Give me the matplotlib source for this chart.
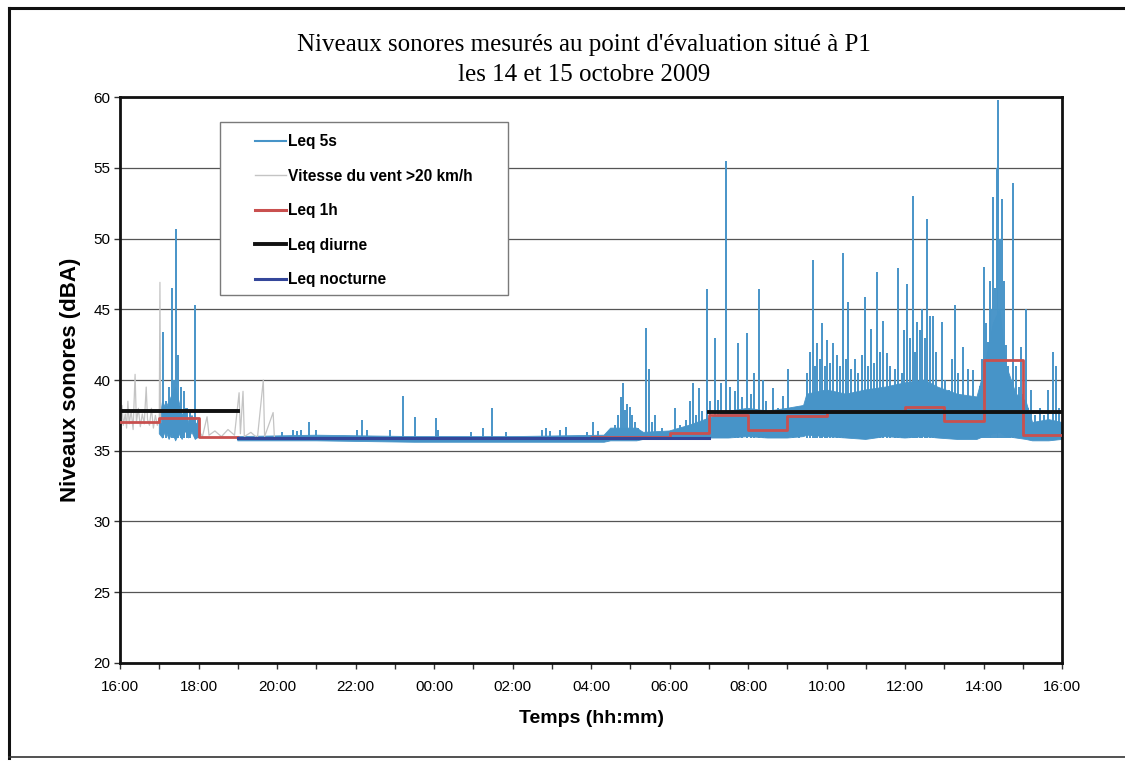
import matplotlib.pyplot as plt
import numpy as np
from matplotlib.lines import Line2D
from matplotlib.patches import Rectangle

# time axis: minutes after 16:00 on 14 october, levels in dBA
spike_min = [66, 70, 75, 80, 83, 86, 89, 93, 98, 102, 107, 115, 119,
             248, 264, 271, 277, 289, 300, 362, 370, 378, 413, 433, 451, 483, 486,
             537, 555, 569, 590, 645, 651, 657, 673, 682, 714, 723, 731,
             757, 761, 766, 769, 772, 775, 780, 783, 787, 792, 804, 809, 813, 818,
             829, 848, 856, 865, 871, 876, 881, 885, 890, 897, 902, 910, 914, 919,
             926, 933, 940, 945, 951, 958, 965, 969, 977, 983, 988, 998, 1006,
             1014, 1021, 1029, 1038,
             1050, 1055, 1059, 1062, 1066, 1070, 1073, 1078, 1081, 1085, 1090,
             1096, 1101, 1105, 1110, 1113, 1118, 1124, 1128, 1134, 1139, 1143,
             1148, 1153, 1157, 1162, 1166, 1173, 1177, 1185, 1189, 1195, 1199,
             1203, 1208, 1212, 1215, 1218, 1223, 1226, 1231, 1234, 1238, 1243,
             1247, 1257, 1261, 1267, 1272, 1276, 1281, 1289, 1296, 1304, 1315,
             1318, 1321, 1324, 1327, 1330, 1332, 1335, 1338, 1341, 1342, 1345,
             1348, 1351, 1354, 1357, 1361, 1365, 1370, 1374, 1377, 1380, 1385,
             1388, 1393, 1399, 1406, 1413, 1419, 1426, 1431, 1435]
spike_db = [43.4, 38.5, 39.5, 46.5, 40.0, 50.7, 41.8, 39.5, 39.2, 38.0, 37.8, 45.3, 37.2,
            36.3, 36.5, 36.4, 36.5, 37.0, 36.5, 36.5, 37.2, 36.5, 36.5, 38.9, 37.4, 37.3, 36.5,
            36.3, 36.6, 38.0, 36.3, 36.5, 36.6, 36.4, 36.5, 36.7, 36.3, 37.0, 36.4,
            36.8, 37.5, 38.8, 39.8, 37.9, 38.3, 38.1, 37.5, 37.0, 36.6, 43.7, 40.8, 37.0, 37.5,
            36.6, 38.0, 36.8, 37.2, 38.5, 39.8, 37.5, 39.4, 37.8, 46.4, 38.5, 43.0, 38.6, 39.8,
            55.5, 39.5, 39.2, 42.6, 38.8, 43.3, 39.0, 40.5, 46.4, 40.0, 38.5, 39.4, 38.0,
            38.9, 40.8, 38.0, 38.0,
            40.5, 42.0, 48.5, 41.0, 42.6, 41.5, 44.0, 41.0, 42.8, 41.2, 42.6,
            41.8, 41.0, 49.0, 41.5, 45.5, 40.8, 41.5, 40.5, 41.8, 45.9, 41.0,
            43.6, 41.2, 47.6, 42.0, 44.2, 41.9, 41.0, 40.8, 47.9, 40.5, 43.5,
            46.8, 43.0, 53.0, 42.0, 44.1, 43.5, 45.0, 43.0, 51.4, 44.5, 44.5,
            42.0, 44.1, 40.0, 39.3, 41.5, 45.3, 40.5, 42.3, 40.8, 40.7, 39.6,
            41.5, 48.0, 44.0, 42.7, 47.0, 45.0, 52.9, 46.5, 55.0, 59.8, 50.0,
            52.8, 47.0, 42.5, 41.0, 40.0, 53.9, 41.0, 39.5, 42.3, 39.0, 45.0,
            38.0, 39.3, 37.5, 38.0, 37.5, 39.3, 42.0, 41.0, 38.0]

# dense part of the Leq 5s trace (lower / upper envelope)
band_min = [60, 65, 70, 75, 80, 85, 90, 95, 100, 105, 110, 115, 121, 122, 179,
            180, 300, 450, 600, 740, 750, 790, 800, 840, 870, 900, 930, 960, 990,
            1020, 1045, 1050, 1080, 1110, 1140, 1170, 1200, 1230, 1250, 1280, 1310,
            1320, 1335, 1345, 1355, 1370, 1385, 1395, 1420, 1440]
band_lo = [36.2, 35.9, 36.4, 35.8, 36.3, 35.7, 36.2, 35.8, 36.4, 35.9, 36.3, 35.8, 36.0, np.nan, np.nan,
           35.7, 35.7, 35.6, 35.6, 35.6, 35.7, 35.7, 35.8, 35.8, 35.8, 35.9, 35.9, 36.0, 35.9,
           35.9, 36.0, 36.1, 36.0, 35.9, 35.8, 36.0, 35.9, 36.0, 35.9, 35.8, 35.8,
           36.0, 36.2, 36.3, 36.0, 35.9, 35.8, 35.7, 35.7, 35.8]
band_hi = [37.0, 38.5, 38.0, 38.5, 39.0, 39.5, 38.5, 37.5, 38.0, 37.0, 37.5, 37.0, 36.8, np.nan, np.nan,
           36.0, 36.1, 36.0, 36.0, 36.1, 36.6, 36.6, 36.3, 36.4, 36.8, 37.3, 37.8, 38.0, 37.8,
           38.0, 38.2, 39.0, 39.3, 39.0, 39.3, 39.5, 39.8, 40.0, 39.5, 39.0, 38.8,
           40.5, 44.0, 45.0, 41.0, 39.0, 38.5, 37.0, 37.2, 37.0]

# periods with wind > 20 km/h
wind_min = [0, 3, 5, 8, 10, 12, 14, 17, 20, 23, 25, 28, 31, 34, 37, 40, 42, 45, 48,
            51, 54, 57, 60, 61, 62, 63,
            122, 126, 133, 136, 145, 155, 165, 175, 182, 184, 188, 190, 200, 210,
            219, 221, 234, 236]
wind_db = [37.0, 38.2, 36.8, 37.6, 36.6, 38.5, 36.9, 37.8, 36.5, 40.4, 37.0, 38.0, 36.7,
           37.6, 36.9, 39.5, 37.2, 36.8, 38.0, 36.6, 37.5, 36.8, 37.3, 46.9, 37.0, np.nan,
           36.3, 36.0, 37.4, 36.1, 36.4, 36.0, 36.5, 36.1, 39.1, 36.2, 39.2, 36.0, 36.3,
           35.9, 40.0, 36.0, 37.7, 35.9]

# hourly Leq, 16:00 -> 15:00
leq1h = [37.0, 37.3, 36.0, 35.9, 35.9, 35.9, 35.9, 35.9, 35.9, 35.9, 35.9, 35.9,
         36.0, 36.0, 36.25, 37.5, 36.5, 37.45, 37.8, 37.8, 38.1, 37.1, 41.4, 36.1]

# day / night periods (hours after 16:00)
diurne_start = [0, 15]
diurne_end = [3, 24]
diurne_db = [37.8, 37.75]
nocturne_start = [3]
nocturne_end = [15]
nocturne_db = [35.9]

tick_labels = ["16:00", "18:00", "20:00", "22:00", "00:00", "02:00", "04:00",
               "06:00", "08:00", "10:00", "12:00", "14:00", "16:00"]

BLUE = "#4794c8"
GREY = "#c4c4c4"
RED = "#c9504f"
NAVY = "#34479a"

plt.rcParams["font.family"] = ["Liberation Sans", "DejaVu Sans"]

fig = plt.figure(figsize=(11.25, 7.61), dpi=100)
ax = fig.add_axes([0.1067, 0.1288, 0.8373, 0.7437])

# outer frame of the scanned figure
fig.add_artist(Line2D([0.008, 0.008], [0.004, 0.989], color="#111111", lw=2.2))
fig.add_artist(Line2D([0.008, 1.0], [0.989, 0.989], color="#111111", lw=2.2))
fig.add_artist(Line2D([0.008, 1.0], [0.005, 0.005], color="#333333", lw=1.2))

ax.fill_between(np.array(band_min) / 60, band_lo, band_hi, color=BLUE, lw=0.6, zorder=2)
ax.vlines(np.array(spike_min) / 60, 35.9, spike_db, color=BLUE, lw=1.4, zorder=2)
ax.plot(np.array(wind_min) / 60, wind_db, color=GREY, lw=0.9, zorder=2.1)
ax.plot(np.arange(25), leq1h + [leq1h[-1]], drawstyle="steps-post",
        color=RED, lw=2.0, zorder=3)
for s, e, v in zip(diurne_start, diurne_end, diurne_db):
    ax.plot([s, e], [v, v], color="#111111", lw=2.8, zorder=3.1)
for s, e, v in zip(nocturne_start, nocturne_end, nocturne_db):
    ax.plot([s, e], [v, v], color=NAVY, lw=2.2, zorder=3.2)

ax.set_xlim(0, 24)
ax.set_ylim(20, 60)
ax.set_xticks(np.arange(0, 25, 2))
ax.set_xticklabels(tick_labels)
ax.set_xticks(np.arange(0, 25, 1), minor=True)
ax.set_yticks(np.arange(20, 61, 5))
ax.tick_params(axis="both", which="both", direction="out", length=4, width=1,
               labelsize=11, color="#333333")
ax.tick_params(axis="x", pad=8)
ax.tick_params(axis="y", pad=3)
ax.yaxis.grid(True, color="#555555", lw=0.9)
ax.set_axisbelow(True)
for sp in ax.spines.values():
    sp.set_linewidth(2.0)
    sp.set_color("#111111")

ax.set_ylabel("Niveaux sonores (dBA)", fontsize=16, fontweight="bold", labelpad=9)
ax.set_xlabel("Temps (hh:mm)", fontsize=14, fontweight="bold", labelpad=12)

fig.text(0.519, 0.941, "Niveaux sonores mesurés au point d'évaluation situé à P1",
         ha="center", va="center", fontsize=18, family=["Liberation Serif", "DejaVu Serif"])
fig.text(0.519, 0.901, "les 14 et 15 octobre 2009",
         ha="center", va="center", fontsize=18, family=["Liberation Serif", "DejaVu Serif"])

# legend box
ax.add_patch(Rectangle((0.106, 0.650), 0.306, 0.306, transform=ax.transAxes,
                       facecolor="white", edgecolor="#7a7a7a", lw=1.0,
                       zorder=4.5, clip_on=False))
handles = [Line2D([], [], color=BLUE, lw=1.5),
           Line2D([], [], color=GREY, lw=1.0),
           Line2D([], [], color=RED, lw=2.2),
           Line2D([], [], color="#111111", lw=2.8),
           Line2D([], [], color=NAVY, lw=2.2)]
labels = ["Leq 5s", "Vitesse du vent >20 km/h", "Leq 1h", "Leq diurne", "Leq nocturne"]
leg = ax.legend(handles, labels, loc="upper left",
                bbox_to_anchor=((255 - 120) / 942, (663 - 134) / 566),
                frameon=False, handlelength=2.0, handletextpad=0.15,
                labelspacing=1.26, borderpad=0, borderaxespad=0,
                prop={"weight": "bold", "size": 11.2})
leg.set_zorder(5)

fig.savefig("out.png", dpi=100)
